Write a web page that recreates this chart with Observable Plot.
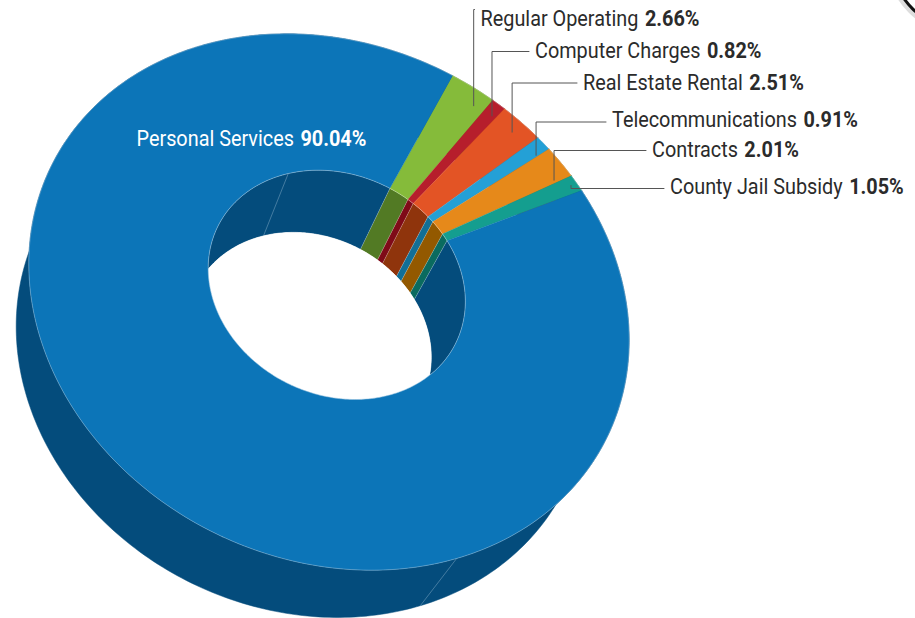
<!DOCTYPE html>
<html>
<head>
<meta charset="utf-8">
<script src="https://cdn.jsdelivr.net/npm/d3@7"></script>
<script src="https://cdn.jsdelivr.net/npm/@observablehq/plot@0.6"></script>
<style>
html,body{margin:0;padding:0;background:#fff;overflow:hidden}
svg{display:block}
</style>
</head>
<body>
<div id="chart"></div>
<script>
// ---- data ----
const categories = ["Regular Operating","Computer Charges","Real Estate Rental","Telecommunications","Contracts","County Jail Subsidy","Personal Services"];
const shares = [2.66,0.82,2.51,0.91,2.01,1.05,90.04];
const faceColors = ["#85bb3a","#b61e2c","#e35425","#24a0d6","#e6891a","#149e8f","#0c75b8"];
const wallColors = ["#527a24","#7f0a18","#8f340c","#126f96","#935900","#0a6b5f","#044c7c"];

// ---- label layout ----
const labelX = [480,534.5,582.5,611.5,651.5,669.5,136];
const labelY = [18.5,50.5,82.5,119.5,149.5,186.5,138.5];
const leaderY = [9,51,82.5,121.5,150,188,null];
const leaderNudge = [2.4,0.6,0.2,1.3,2.9,0];
const leaderR = [0.93,0.94,0.94,0.94,0.93,0.975];
const fontSize = 22.5, condense = 0.882, boldGap = 1.5;

// ---- projection of the tilted 3D ring ----
const ell = {cx:328.5, cy:301.5, a:300.2, c:38, e:265.5};
const hub = {x:338, y:280.5};
const vanish = {x:-209, y:1422};
const depth = 0.054, hole = 0.43, startDeg = -176.1;
const ox = (ell.cx-hub.x)/ell.a, oy = ((ell.cy-hub.y)-ell.c*ox)/ell.e;
const k = Math.hypot(ox,oy), NX = ox/k, NY = oy/k, sq = Math.sqrt(1-k*k);
function project(r, deg, h){
  const t = deg*Math.PI/180, den = 1-k*r*Math.cos(t);
  const u = r*((1-k*k)*Math.cos(t)*NX + sq*Math.sin(t)*(-NY))/den;
  const v = r*((1-k*k)*Math.cos(t)*NY + sq*Math.sin(t)*NX)/den;
  let x = hub.x + ell.a*u, y = hub.y + ell.c*u + ell.e*v;
  if (h){ const f = h/(den+h); x += f*(vanish.x-x); y += f*(vanish.y-y); }
  return {x,y};
}

let cum = 0;
const slices = categories.map((name,i)=>{
  const from = startDeg + cum*3.6; cum += shares[i];
  return {name, share:shares[i], from, to:startDeg+cum*3.6, face:faceColors[i], wall:wallColors[i], i};
});
const steps = (a,b)=>{const n=Math.max(2,Math.ceil(Math.abs(b-a)));return d3.range(n+1).map(j=>a+(b-a)*j/n);};
const arc = (r,s,h)=>steps(s.from,s.to).map(d=>project(r,d,h));
const close = p=>[...p,p[0]];
const facePoly = s=>close([...arc(1,s,0),...arc(hole,s,0).reverse()]);
const wallPoly = (r,s)=>close([...arc(r,s,0),...arc(r,s,depth).reverse()]);
const personal = slices[6];
const outerSeam = personal.from + 0.272*360, innerSeam = outerSeam + 178;

// ---- text rows: name, then the bold share right after it ----
const ctx = document.createElement("canvas").getContext("2d");
ctx.font = `400 ${fontSize}px Roboto`;
const nameRows = slices.map((s,i)=>({t:s.name,x:labelX[i],y:labelY[i],i}));
const valueRows = slices.map((s,i)=>({t:s.share.toFixed(2)+"%",x:labelX[i]+ctx.measureText(s.name+" ").width*condense+boldGap,y:labelY[i],i}));
const leaders = slices.filter(s=>leaderY[s.i]!=null).map(s=>{
  const a = project(leaderR[s.i],(s.from+s.to)/2+leaderNudge[s.i],0), ly = leaderY[s.i];
  return [a,{x:a.x,y:ly},{x:Math.max(a.x,labelX[s.i]-6),y:ly}];
});
const ink = d=>d.i==6?"#fff":"#2b2b2b";

const chart = Plot.plot({
  width:915,height:618,margin:0,
  style:{background:"#fff"},
  x:{domain:[0,915],range:[0,915],axis:null},
  y:{domain:[0,618],range:[0,618],axis:null},
  marks:[
    // badge corner that peeks in at the top right
    Plot.dot([{x:960,y:-40}],{x:"x",y:"y",r:71,fill:"none",stroke:"#ddd",strokeWidth:5}),
    Plot.dot([{x:960,y:-40}],{x:"x",y:"y",r:68,fill:"#fff",stroke:"#111",strokeWidth:3}),
    ...slices.map(s=>Plot.line(wallPoly(1,s),{x:"x",y:"y",fill:s.wall,stroke:s.wall,strokeWidth:.5})),
    Plot.line([project(1,outerSeam,0),project(1,outerSeam,depth)],{x:"x",y:"y",stroke:"#5f8fb0",strokeWidth:.7}),
    ...slices.map(s=>Plot.line(wallPoly(hole,s),{x:"x",y:"y",fill:s.wall,stroke:"#fff",strokeOpacity:.3,strokeWidth:.5})),
    Plot.line([project(hole,innerSeam,0),project(hole,innerSeam,depth)],{x:"x",y:"y",stroke:"#5f8fb0",strokeWidth:.7}),
    Plot.line(close(steps(0,360).map(d=>project(hole,d,depth))),{x:"x",y:"y",fill:"#fff",stroke:"#fff",strokeWidth:.5}),
    ...slices.map(s=>Plot.line(facePoly(s),{x:"x",y:"y",fill:s.face,stroke:s.face,strokeWidth:.3})),
    Plot.line(close(steps(0,360).map(d=>project(1,d,0))),{x:"x",y:"y",stroke:"#fff",strokeOpacity:.45,strokeWidth:.6}),
    Plot.line(close(steps(0,360).map(d=>project(hole,d,0))),{x:"x",y:"y",stroke:"#fff",strokeOpacity:.45,strokeWidth:.6}),
    ...leaders.map(l=>Plot.line(l,{x:"x",y:"y",stroke:"#555",strokeWidth:1})),
    Plot.text(nameRows,{x:"x",y:"y",text:"t",textAnchor:"start",lineAnchor:"middle",fontFamily:"Roboto",fontSize,fontWeight:400,fill:ink}),
    Plot.text(valueRows,{x:"x",y:"y",text:"t",textAnchor:"start",lineAnchor:"middle",fontFamily:"Roboto",fontSize,fontWeight:700,fill:ink})
  ]
});
document.getElementById("chart").append(chart);
// narrow the Roboto glyphs to the reference's condensed width
chart.querySelectorAll("text").forEach(t=>{
  t.setAttribute("transform",(t.getAttribute("transform")||"")+` scale(${condense},1)`);
});
</script>
</body>
</html>
